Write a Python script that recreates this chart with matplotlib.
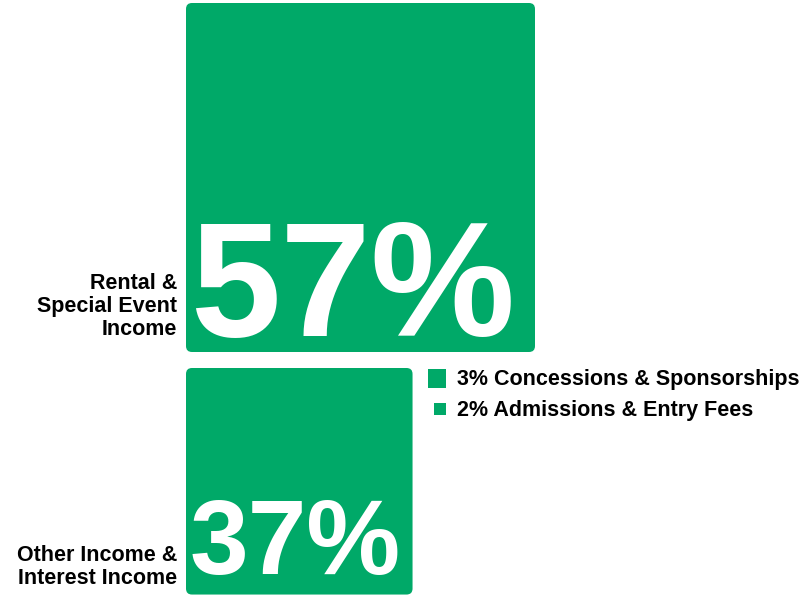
import matplotlib.pyplot as plt
from matplotlib.patches import FancyBboxPatch

# data
main_values = [57, 37]
main_labels = ['Rental &\nSpecial Event\nIncome', 'Other Income &\nInterest Income']
small_values = [3, 2]
small_labels = ['Concessions & Sponsorships', 'Admissions & Entry Fees']

green = '#00a968'
font = 'Liberation Sans'

fig = plt.figure(figsize=(8.07, 5.95), dpi=100)
ax = fig.add_axes([0, 0, 1, 1])
ax.set_xlim(0, 807)
ax.set_ylim(595, 0)
ax.axis('off')

scale = 349 / 57.0  # px per percent of side
left = 186
tops = [3, 368]
label_off = [17, 11]
num_off = [16, 21]

for v, lab, top, lo, no in zip(main_values, main_labels, tops, label_off, num_off):
    s = v * scale
    ax.add_patch(FancyBboxPatch((left, top), s, s,
                                boxstyle='round,pad=0,rounding_size=6',
                                fc=green, ec='none'))
    fs = 117 * v / 57.0
    ax.text(left + 4, top + s - no, f'{v}%', color='white',
            fontsize=fs, fontweight='bold', family=font,
            ha='left', va='baseline')
    ax.text(177, top + s - lo, lab, fontsize=15.5, fontweight='bold', family=font,
            ha='right', va='baseline', multialignment='right', linespacing=1.12)

# small squares legend
ycent = [378.5, 409]
for v, lab, yc in zip(small_values, small_labels, ycent):
    s = v * scale
    ax.add_patch(plt.Rectangle((446 - s, yc - s / 2), s, s, fc=green, ec='none'))
    ax.text(457, yc + 7, f'{v}% {lab}', fontsize=15.5, fontweight='bold', family=font,
            ha='left', va='baseline')

fig.savefig('out.png', dpi=100)
